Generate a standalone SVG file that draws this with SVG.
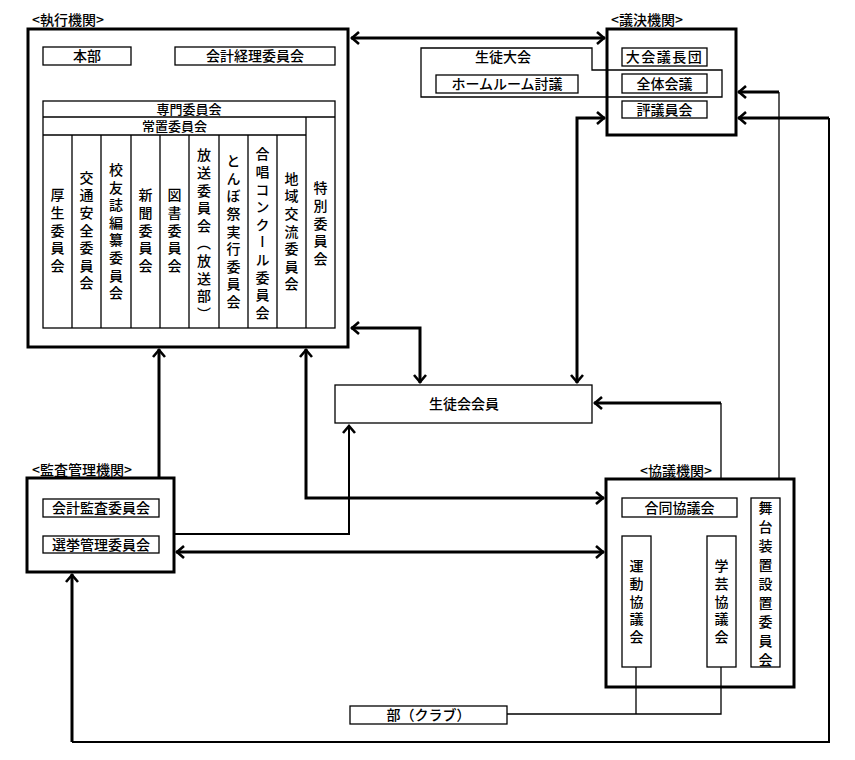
<svg xmlns="http://www.w3.org/2000/svg" width="855" height="760" viewBox="0 0 855 760">
<style>
text{font-family:"Noto Sans CJK JP","Noto Sans CJK SC",sans-serif;font-size:14px;font-weight:500;fill:#000}
.c{text-anchor:middle}
.s{font-size:13px}
.v{writing-mode:vertical-rl;text-anchor:middle;letter-spacing:3.6px}
.big{fill:none;stroke:#000;stroke-width:3}
.bx{fill:#fff;stroke:#000;stroke-width:1.3}
.ln{fill:none;stroke:#000;stroke-width:1.3}
.th{fill:none;stroke:#000;stroke-width:3}
.md{fill:none;stroke:#000;stroke-width:2}
</style>
<defs>
<marker id="a" markerUnits="userSpaceOnUse" markerWidth="14" markerHeight="16" refX="11" refY="8" orient="auto-start-reverse">
<path d="M3,2 L10,8 L3,14" fill="none" stroke="#000" stroke-width="2.6"/>
</marker>
</defs>

<g id="exec">
<text x="32" y="25">&lt;執行機関&gt;</text>
<rect class="big" x="28" y="29" width="320" height="318"/>
<rect class="bx" x="43" y="47" width="88" height="18"/>
<text class="c" x="87" y="61">本部</text>
<rect class="bx" x="175" y="47" width="160" height="18"/>
<text class="c" x="255" y="61">会計経理委員会</text>
<rect class="bx" x="43" y="101" width="292" height="227"/>
<line class="ln" x1="43" y1="117" x2="335" y2="117"/>
<text class="c s" x="189" y="113.5">専門委員会</text>
<line class="ln" x1="43" y1="135" x2="306" y2="135"/>
<text class="c s" x="174.5" y="131">常置委員会</text>
<path class="ln" d="M72,135V328M101,135V328M131,135V328M160,135V328M189,135V328M219,135V328M248,135V328M277,135V328M306,117V328"/>
<text class="v" x="57.5" y="232">厚生委員会</text>
<text class="v" x="86.5" y="232">交通安全委員会</text>
<text class="v" x="116" y="233">校友誌編纂委員会</text>
<text class="v" x="145.5" y="232">新聞委員会</text>
<text class="v" x="174.5" y="232">図書委員会</text>
<text class="v" x="204" y="236">放送委員会（放送部）</text>
<text class="v" x="233.5" y="233">とんぼ祭実行委員会</text>
<text class="v" x="262.5" y="235">合唱コンクール委員会</text>
<text class="v" x="291.5" y="233">地域交流委員会</text>
<text class="v" x="320.5" y="225">特別委員会</text>
</g>

<g id="giketsu">
<text x="611" y="25">&lt;議決機関&gt;</text>
<polygon class="ln" points="421,48 592,48 592,70 722,70 722,97 421,97"/>
<text class="c" x="503" y="62">生徒大会</text>
<rect class="bx" x="436" y="75" width="142" height="18"/>
<text class="c" x="507" y="89">ホームルーム討議</text>
<rect class="big" x="607" y="29" width="129" height="106"/>
<rect class="bx" x="622" y="48" width="85" height="18"/>
<text class="c" x="664.5" y="62" style="letter-spacing:1.5px">大会議長団</text>
<rect class="bx" x="622" y="74" width="85" height="19"/>
<text class="c" x="664.5" y="88.5">全体会議</text>
<rect class="bx" x="622" y="101" width="85" height="17"/>
<text class="c" x="664.5" y="114.5">評議員会</text>
</g>

<g id="member">
<rect class="bx" x="335" y="385" width="257" height="38"/>
<text class="c" x="464" y="409">生徒会会員</text>
</g>

<g id="kansa">
<text x="32" y="475">&lt;監査管理機関&gt;</text>
<rect class="big" x="27" y="478" width="147" height="94"/>
<rect class="bx" x="43" y="499" width="116" height="18"/>
<text class="c" x="101" y="513">会計監査委員会</text>
<rect class="bx" x="43" y="536" width="116" height="17"/>
<text class="c" x="101" y="550">選挙管理委員会</text>
</g>

<g id="kyogi">
<text x="640" y="476">&lt;協議機関&gt;</text>
<rect class="big" x="606" y="479" width="188" height="208"/>
<rect class="bx" x="622" y="498" width="115" height="19"/>
<text class="c" x="679.5" y="512.5">合同協議会</text>
<rect class="bx" x="622" y="536" width="29" height="131"/>
<text class="v" x="636.5" y="603">運動協議会</text>
<rect class="bx" x="707" y="536" width="29" height="131"/>
<text class="v" x="721.5" y="603">学芸協議会</text>
<rect class="bx" x="751" y="498" width="29" height="169"/>
<text class="v" x="765.5" y="586" style="letter-spacing:5px">舞台装置設置委員会</text>
</g>

<g id="club">
<rect class="bx" x="350" y="706" width="157" height="18"/>
<text class="c" x="428.5" y="720">部（クラブ）</text>
</g>

<g id="connectors">
<path class="th" d="M351,38H605" marker-start="url(#a)" marker-end="url(#a)"/>
<path class="th" d="M351,328H420V383" marker-start="url(#a)" marker-end="url(#a)"/>
<path class="th" d="M605,118H577V383" marker-start="url(#a)" marker-end="url(#a)"/>
<path class="ln" d="M721,478V403"/>
<path class="th" d="M721,403H594" marker-end="url(#a)"/>
<path class="ln" d="M779,478V92"/>
<path class="th" d="M779,92H738" marker-end="url(#a)"/>
<path class="th" d="M829,118H738" marker-end="url(#a)"/>
<path class="md" d="M829,118V742H72"/>
<path class="th" d="M72,742V574" marker-end="url(#a)"/>
<path class="th" d="M159,478V349" marker-end="url(#a)"/>
<path class="th" d="M306,349V498H604" marker-start="url(#a)" marker-end="url(#a)"/>
<path class="md" d="M174,534H349V425" marker-end="url(#a)"/>
<path class="th" d="M176,552H604" marker-start="url(#a)" marker-end="url(#a)"/>
<path class="ln" d="M507,714H721V667M636,667V714"/>
</g>
</svg>
